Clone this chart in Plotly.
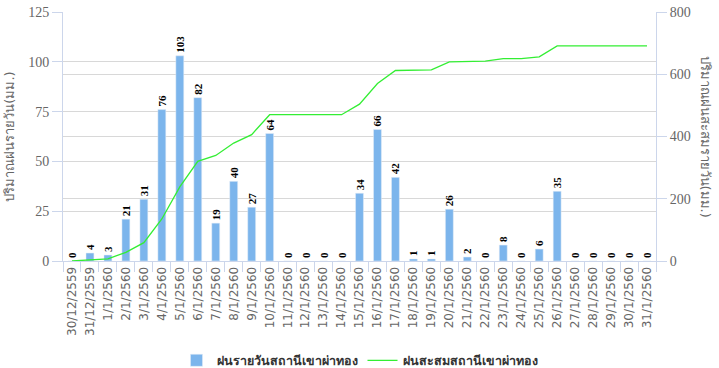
import plotly.graph_objects as go

dates = ["30/12/2559", "31/12/2559", "1/1/2560", "2/1/2560", "3/1/2560", "4/1/2560",
         "5/1/2560", "6/1/2560", "7/1/2560", "8/1/2560", "9/1/2560", "10/1/2560",
         "11/1/2560", "12/1/2560", "13/1/2560", "14/1/2560", "15/1/2560", "16/1/2560",
         "17/1/2560", "18/1/2560", "19/1/2560", "20/1/2560", "21/1/2560", "22/1/2560",
         "23/1/2560", "24/1/2560", "25/1/2560", "26/1/2560", "27/1/2560", "28/1/2560",
         "29/1/2560", "30/1/2560", "31/1/2560"]
daily_rain = [0, 4, 3, 21, 31, 76, 103, 82, 19, 40, 27, 64, 0, 0, 0, 0, 34, 66, 42,
              1, 1, 26, 2, 0, 8, 0, 6, 35, 0, 0, 0, 0, 0]
cumulative_rain = [0, 4, 7, 28, 59, 135, 238, 320, 339, 379, 406, 470, 470, 470, 470,
                   470, 504, 570, 612, 613, 614, 640, 642, 642, 650, 650, 656, 691, 691,
                   691, 691, 691, 691]

left_ticks = [0, 25, 50, 75, 100, 125]
right_ticks = [0, 200, 400, 600, 800]

name_daily = "ฝนรายวันสถานีเขาผ่าทอง"
name_cum = "ฝนสะสมสถานีเขาผ่าทอง"
title_left = "ปริมาณฝนรายวัน(มม.)"
title_right = "ปริมาณฝนสะสมรายวัน(มม.)"

axis_col = "#ccd6eb"
grid_col = "#d8d8d8"
tick_font = dict(family="Liberation Serif, serif", size=14, color="#666666")

fig = go.Figure()
fig.add_trace(go.Bar(
    x=dates, y=daily_rain, name=name_daily, marker_color="#7cb5ec",
    text=[str(v) for v in daily_rain], textposition="outside", textangle=-90,
    textfont=dict(family="Liberation Serif, serif", size=11, color="#000000", weight="bold"),
    constraintext="none", cliponaxis=False, width=0.44, hoverinfo="skip",
))
fig.add_trace(go.Scatter(
    x=dates, y=cumulative_rain, name=name_cum, mode="lines", yaxis="y2",
    line=dict(color="#33ee33", width=1.3), hoverinfo="skip",
))

fig.update_layout(
    width=719, height=368,
    margin=dict(l=63, r=63, t=12, b=107, autoexpand=False),
    paper_bgcolor="white", plot_bgcolor="white",
    showlegend=True,
    legend=dict(orientation="h", x=0.5, xanchor="center", y=-0.34, yanchor="top",
                font=dict(family="DejaVu Sans, sans-serif", size=12.5, color="#333333", weight="bold"),
                itemwidth=30, traceorder="normal"),
    xaxis=dict(
        type="category", tickangle=-90, tickson="boundaries", ticks="outside",
        ticklen=10, tickcolor=axis_col, showline=True, linecolor=axis_col,
        showgrid=False, tickfont=dict(family="DejaVu Sans, sans-serif", size=12, color="#666666"),
        range=[-0.5, len(daily_rain) - 0.5],
    ),
    yaxis=dict(
        range=[0, 125], tickvals=left_ticks, ticks="outside", ticklen=10,
        tickcolor=axis_col, showline=True, linecolor=axis_col,
        showgrid=True, gridcolor=grid_col, zeroline=False, tickfont=tick_font,
        title=dict(text=title_left, font=dict(family="DejaVu Sans, sans-serif", size=13, color="#666666"), standoff=10),
    ),
    yaxis2=dict(
        range=[0, 800], tickvals=right_ticks, overlaying="y", side="right",
        ticks="outside", ticklen=10, tickcolor=axis_col, showline=True,
        linecolor=axis_col, showgrid=True, gridcolor=grid_col, zeroline=False,
        tickfont=tick_font,
    ),
    annotations=[dict(
        text=title_right, textangle=90, xref="paper", yref="paper",
        x=1.0, xshift=49, y=0.5, showarrow=False, xanchor="center", yanchor="middle",
        font=dict(family="DejaVu Sans, sans-serif", size=13, color="#666666"),
    )],
)

fig.write_html("out.html", config={"displayModeBar": False},
               post_script="document.body.style.margin='0px';")
